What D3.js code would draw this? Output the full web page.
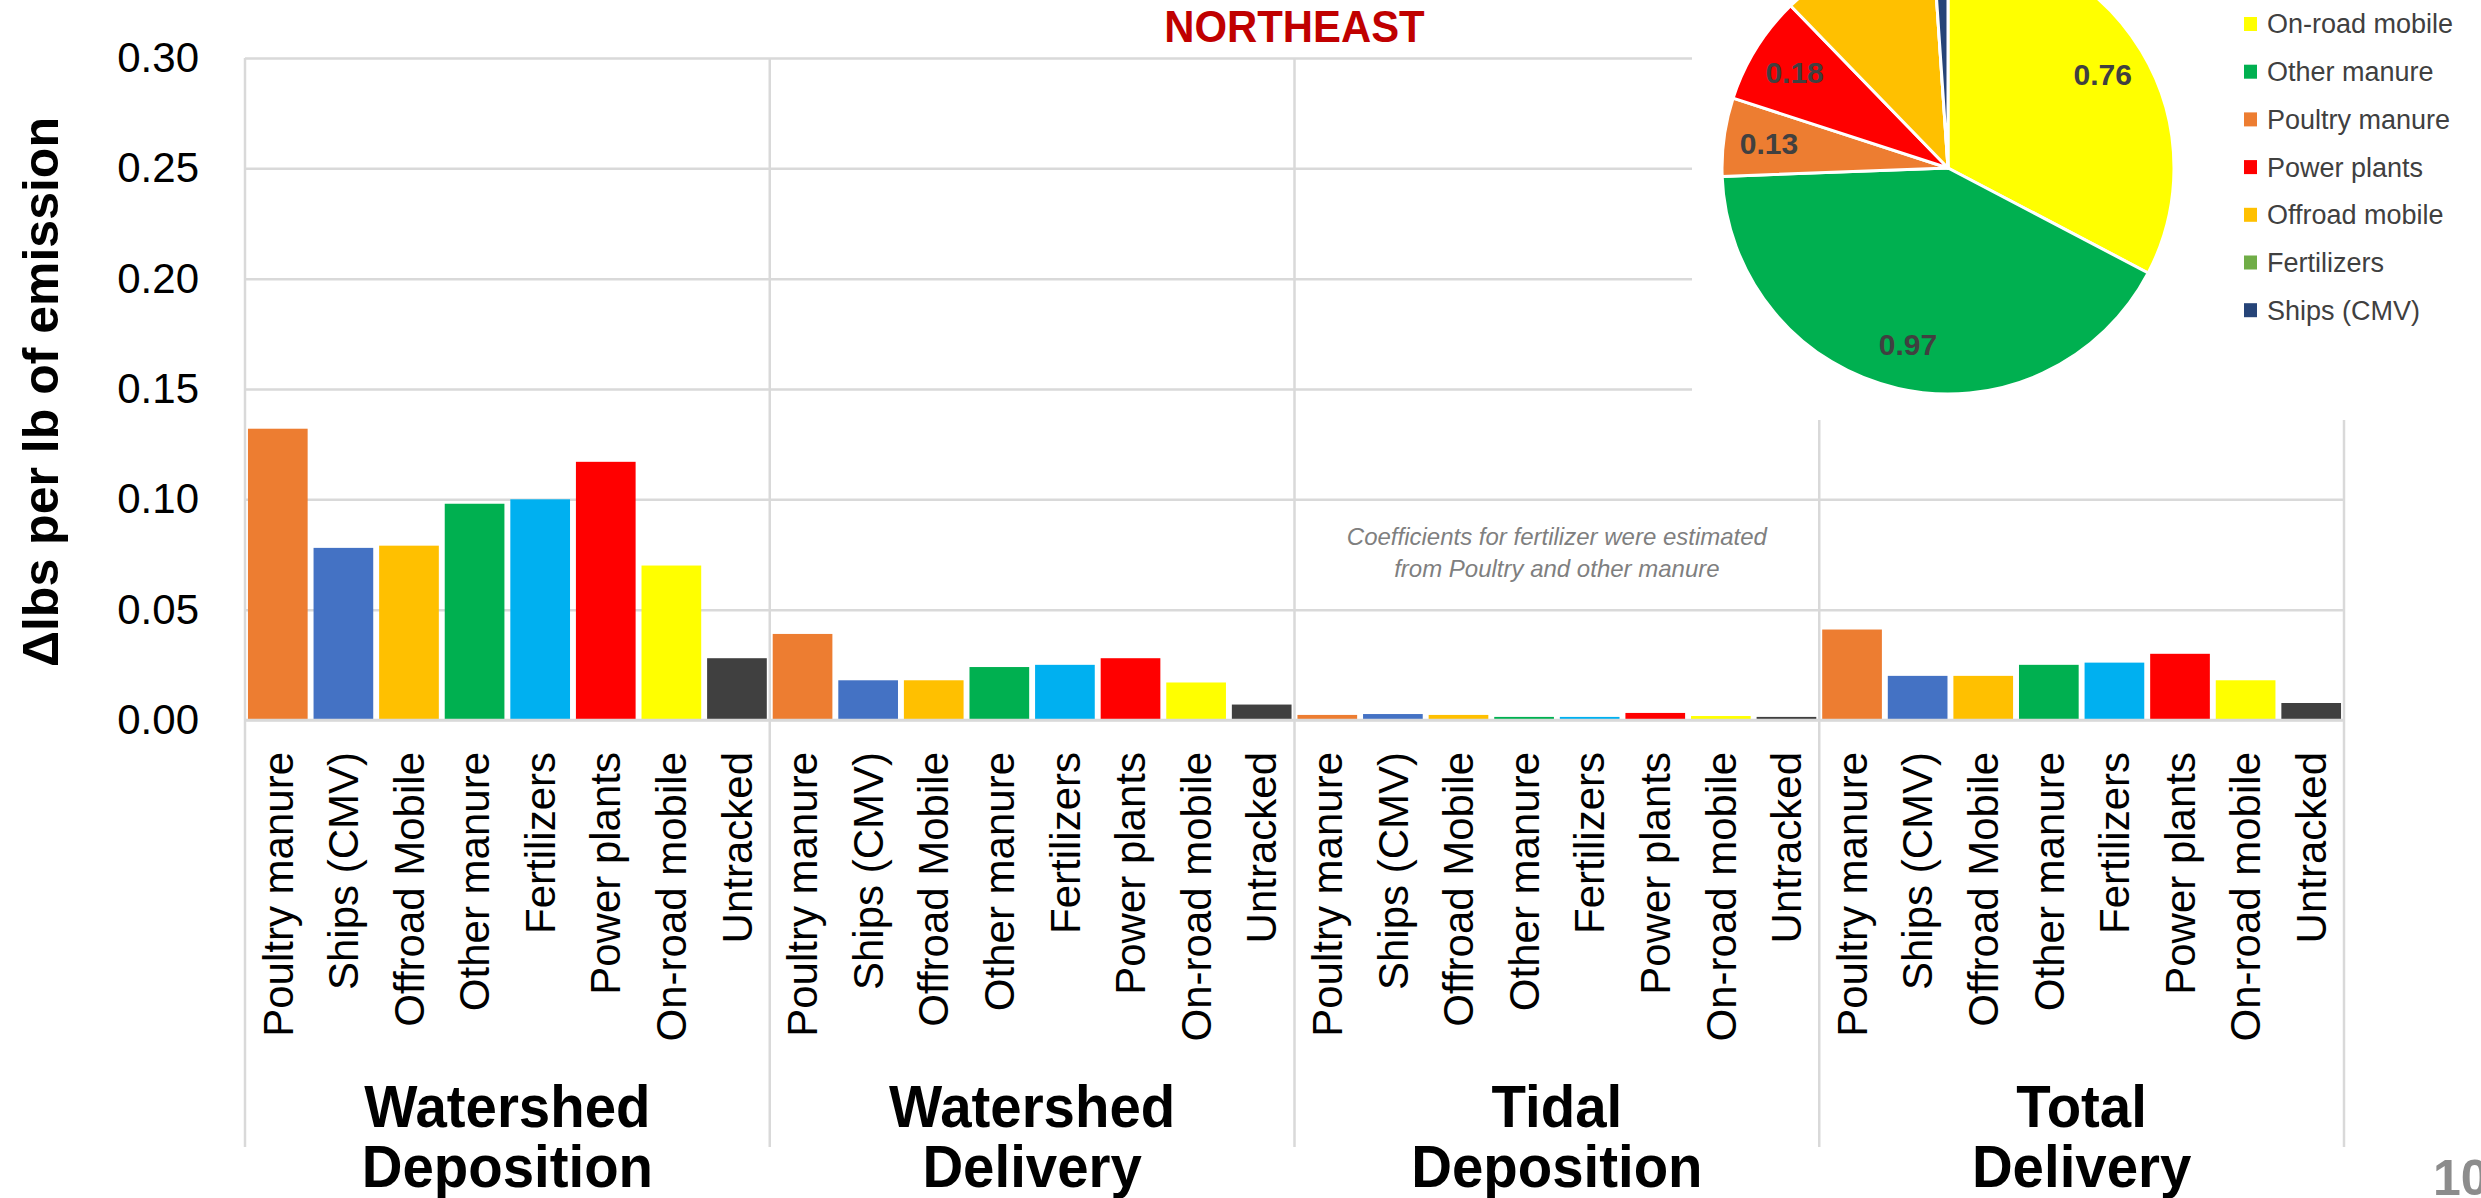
<!DOCTYPE html>
<html><head><meta charset="utf-8">
<script src="https://cdn.jsdelivr.net/npm/d3@7"></script>
<style>html,body{margin:0;padding:0;background:#fff;overflow:hidden}</style>
</head><body>
<svg id="c" width="2481" height="1198" xmlns="http://www.w3.org/2000/svg"></svg>
<script>
// ---------------- DATA ----------------
const categories = ["Poultry manure","Ships (CMV)","Offroad Mobile","Other manure","Fertilizers","Power plants","On-road mobile","Untracked"];
const groupNames = ["Watershed Deposition","Watershed Delivery","Tidal Deposition","Total Delivery"];
const groupLines = [["Watershed","Deposition"],["Watershed","Delivery"],["Tidal","Deposition"],["Total","Delivery"]];
const watershedDeposition = [0.132, 0.078, 0.079, 0.098, 0.100, 0.117, 0.070, 0.028];
const watershedDelivery   = [0.039, 0.018, 0.018, 0.024, 0.025, 0.028, 0.017, 0.007];
const tidalDeposition     = [0.0023, 0.0027, 0.0023, 0.0014, 0.0014, 0.0032, 0.0018, 0.0014];
const totalDelivery       = [0.041, 0.020, 0.020, 0.025, 0.026, 0.030, 0.018, 0.0077];
const yTicks = [0, 0.05, 0.10, 0.15, 0.20, 0.25, 0.30];
const pieLabels = ["On-road mobile","Other manure","Poultry manure","Power plants","Offroad mobile","Fertilizers","Ships (CMV)"];
const pieValues = [0.76, 0.97, 0.13, 0.18, 0.26, 0.0, 0.025];
const titleText = "NORTHEAST";
const yTitle = "\u0394lbs per lb of emission";
const noteLines = ["Coefficients for fertilizer were estimated","from Poultry and other manure"];
const pageNumber = "10";

// ---------------- STYLES ----------------
const barColors = {"Poultry manure":"#ED7D31","Ships (CMV)":"#4472C4","Offroad Mobile":"#FFC000","Other manure":"#00B050","Fertilizers":"#00B0F0","Power plants":"#FF0000","On-road mobile":"#FFFF00","Untracked":"#404040"};
const pieColors = {"On-road mobile":"#FFFF00","Other manure":"#00B050","Poultry manure":"#ED7D31","Power plants":"#FF0000","Offroad mobile":"#FFC000","Fertilizers":"#70AD47","Ships (CMV)":"#264478"};
const FONT = "'Liberation Sans', Arial, Helvetica, sans-serif";
const GRID = "#D9D9D9";

const seriesByGroup = [watershedDeposition, watershedDelivery, tidalDeposition, totalDelivery];
const rows = [];
groupNames.forEach((g, gi) => categories.forEach((c, ci) => rows.push({group: g, cat: c, value: seriesByGroup[gi][ci]})));

const svg = d3.select("#c");
svg.append("rect").attr("width",2481).attr("height",1198).attr("fill","#fff");

const L = 245, R = 2344, T = 58, B = 720, LINE_BOTTOM = 1147;
const y = d3.scaleLinear().domain([0, 0.30]).range([B, T]);
const xG = d3.scaleBand().domain(groupNames).range([L, R]);
const xC = d3.scaleBand().domain(categories).range([0, xG.bandwidth()]).paddingInner(0.09).paddingOuter(0.045);

// y axis + gridlines
const gy = svg.append("g").attr("transform", `translate(${L},0)`)
  .call(d3.axisLeft(y).tickValues(yTicks).tickSize(-(R - L)).tickPadding(46).tickFormat(d3.format(".2f")));
gy.select(".domain").remove();
gy.selectAll(".tick line").attr("stroke", GRID).attr("stroke-width", 2.5);
gy.selectAll(".tick text").attr("font-size", 42).attr("font-family", FONT).attr("fill", "#000");

// vertical separators
const sepX = groupNames.map(g => xG(g)).concat([R]);
svg.append("g").selectAll("line").data(sepX).join("line")
  .attr("x1", d => d).attr("x2", d => d).attr("y1", T).attr("y2", LINE_BOTTOM)
  .attr("stroke", GRID).attr("stroke-width", 2.5);

// bars
svg.append("g").selectAll("rect").data(rows).join("rect")
  .attr("x", d => xG(d.group) + xC(d.cat))
  .attr("width", xC.bandwidth())
  .attr("y", d => y(d.value))
  .attr("height", d => y(0) - y(d.value))
  .attr("fill", d => barColors[d.cat]);

// baseline on top
svg.append("line").attr("x1", L).attr("x2", R).attr("y1", y(0)).attr("y2", y(0))
  .attr("stroke", GRID).attr("stroke-width", 2.5);

// category labels (rotated)
svg.append("g").selectAll("text").data(rows).join("text")
  .attr("transform", d => `translate(${xG(d.group) + xC(d.cat) + xC.bandwidth()/2},752) rotate(-90)`)
  .attr("text-anchor", "end").attr("dy", "0.35em")
  .attr("font-family", FONT).attr("font-size", 42).attr("fill", "#000")
  .text(d => d.cat);

// group labels (one text element, two lines)
const gl = svg.append("g").selectAll("text").data(groupNames).join("text")
  .attr("transform", d => `translate(${xG(d) + xG.bandwidth()/2},1127) scale(0.94,1)`)
  .attr("text-anchor", "middle").attr("font-family", FONT).attr("font-weight", "bold")
  .attr("font-size", 60).attr("fill", "#000");
gl.each(function(d, i) {
  const t = d3.select(this);
  groupLines[i].forEach((line, k) => {
    t.append("tspan").attr("x", 0).attr("dy", k === 0 ? 0 : 60).text(line);
  });
});

// note
svg.append("g").selectAll("text").data(noteLines).join("text")
  .attr("x", xG("Tidal Deposition") + xG.bandwidth()/2)
  .attr("y", (d, i) => 545 + i * 32)
  .attr("text-anchor", "middle").attr("font-family", FONT).attr("font-style", "italic")
  .attr("font-size", 24).attr("fill", "#7F7F7F").text(d => d);

// y title
svg.append("text").attr("transform", "translate(40,392) rotate(-90)")
  .attr("text-anchor", "middle").attr("dy", "0.35em")
  .attr("font-family", FONT).attr("font-weight", "bold").attr("font-size", 50).attr("fill", "#000")
  .text(yTitle);

// title
svg.append("text").attr("transform", `translate(${xG("Tidal Deposition")},42) scale(0.93,1)`)
  .attr("text-anchor", "middle").attr("font-family", FONT).attr("font-weight", "bold")
  .attr("font-size", 45).attr("fill", "#C00000").text(titleText);

// pie background
svg.append("rect").attr("x", 1692).attr("y", 0).attr("width", 2481 - 1692).attr("height", 420).attr("fill", "#fff");

// pie
const PCX = 1948, PCY = 168, PR = 226;
const pieData = d3.pie().sort(null).value(d => d.v)(pieLabels.map((n, i) => ({name: n, v: pieValues[i]})));
const arc = d3.arc().innerRadius(0).outerRadius(PR);
const pg = svg.append("g").attr("transform", `translate(${PCX},${PCY})`);
pg.selectAll("path").data(pieData).join("path")
  .attr("d", arc).attr("fill", d => pieColors[d.data.name])
  .attr("stroke", "#fff").attr("stroke-width", 3).attr("stroke-linejoin", "round");
const labelArc = d3.arc().innerRadius(PR * 0.8).outerRadius(PR * 0.8);
pg.selectAll("text").data(pieData.filter(d => d.data.v > 0 && labelArc.centroid(d)[1] + PCY > 30)).join("text")
  .attr("transform", d => `translate(${labelArc.centroid(d)})`)
  .attr("text-anchor", "middle").attr("dy", "0.35em")
  .attr("font-family", FONT).attr("font-weight", "bold").attr("font-size", 30).attr("fill", "#404040")
  .text(d => d3.format(".2f")(d.data.v));

// legend
const lg = svg.append("g").selectAll("g").data(pieLabels).join("g")
  .attr("transform", (d, i) => `translate(2244,${24 + i * 47.7})`);
lg.append("rect").attr("x", 0).attr("y", -7).attr("width", 13).attr("height", 14).attr("fill", d => pieColors[d]);
lg.append("text").attr("x", 23).attr("dy", "0.35em").attr("font-family", FONT).attr("font-size", 27)
  .attr("fill", "#404040").text(d => d);

// page number
svg.append("text").attr("x", 2433).attr("y", 1195).attr("font-family", FONT).attr("font-weight", "bold")
  .attr("font-size", 50).attr("fill", "#8C8C8C").text(pageNumber);
</script>
</body></html>
